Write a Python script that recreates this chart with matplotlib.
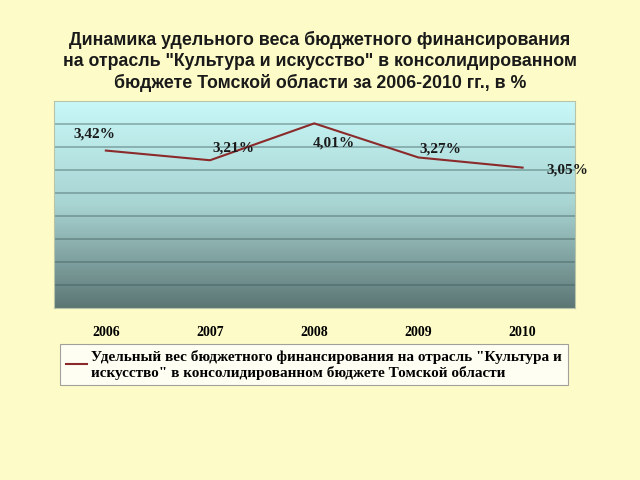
import numpy as np
import matplotlib
matplotlib.use('Agg')
import matplotlib.pyplot as plt
from matplotlib.colors import LinearSegmentedColormap

# Data
years = ['2006', '2007', '2008', '2009', '2010']
share = [3.42, 3.21, 4.01, 3.27, 3.05]
labels = ['3,42%', '3,21%', '4,01%', '3,27%', '3,05%']
label_offsets = [(-8, 12), (17, 9), (14, -14), (16, 6), (32, -2)]

title = ('Динамика удельного веса бюджетного финансирования\n'
         'на отрасль "Культура и искусство" в консолидированном\n'
         'бюджете Томской области за 2006-2010 гг., в %')
legend_label = ('Удельный вес бюджетного финансирования на отрасль "Культура и\n'
                'искусство" в консолидированном бюджете Томской области')

bg = '#fdfcc8'
fig = plt.figure(figsize=(6.4, 4.8), dpi=100, facecolor=bg)
ax = fig.add_axes([0.084, 0.358, 0.814, 0.432])

x = np.arange(len(years))
ax.set_xlim(-0.5, len(years) - 0.5)
ax.set_ylim(0, 4.5)

# gradient background of the plot area (light on top, dark at bottom)
cmap = LinearSegmentedColormap.from_list('bg', ['#c8f8f8', '#a8d4d2', '#5c7674'])
grad = np.linspace(0, 1, 256).reshape(-1, 1)
ax.imshow(grad, cmap=cmap, aspect='auto', extent=(-0.5, len(years) - 0.5, 0, 4.5),
          origin='upper', zorder=0)

for yv in np.arange(0.5, 4.5, 0.5):
    ax.axhline(yv, color='#3c5a5a', alpha=0.45, lw=1.2, zorder=1)

line, = ax.plot(x, share, color='#8b2a2a', lw=1.5, zorder=3, label=legend_label)

for xi, yi, txt, off in zip(x, share, labels, label_offsets):
    ax.annotate(txt, (xi, yi), xytext=off, textcoords='offset points',
                ha='center', va='center', fontsize=11, fontweight='bold',
                family='Liberation Serif', color='#1a1a1a', zorder=4)

ax.set_xticks(x)
ax.set_xticklabels(years, family='Liberation Serif', fontweight='bold', fontsize=10)
ax.tick_params(axis='x', length=0, pad=13)
ax.set_yticks([])
for s in ax.spines.values():
    s.set_color('#b8c4a8')
    s.set_linewidth(0.8)

fig.text(0.5, 0.935, title, ha='center', va='top', fontsize=12.8, fontweight='bold',
         family='Liberation Sans', color='#1a1a1a', linespacing=1.27)

leg = fig.legend(handles=[line], loc='upper left', bbox_to_anchor=(0.094, 0.283),
                 prop={'family': 'Liberation Serif', 'weight': 'bold', 'size': 11},
                 frameon=True, fancybox=False, handlelength=1.4, handletextpad=0.3,
                 borderpad=0.35, borderaxespad=0)
leg.get_frame().set_facecolor('white')
leg.get_frame().set_edgecolor('#8a8a8a')
leg.get_frame().set_linewidth(0.8)

fig.savefig('out.png', dpi=100, facecolor=bg)
